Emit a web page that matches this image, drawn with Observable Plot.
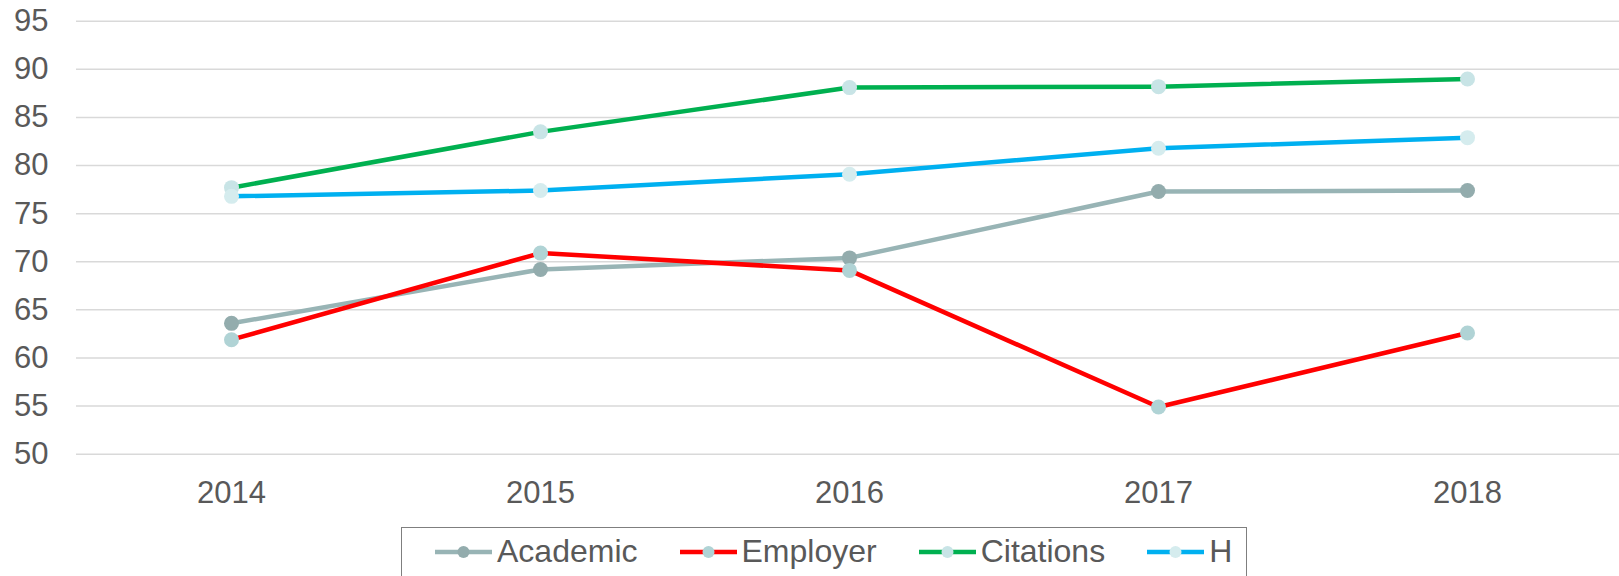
<!DOCTYPE html>
<html>
<head>
<meta charset="utf-8">
<script src="https://cdn.jsdelivr.net/npm/d3@7"></script>
<script src="https://cdn.jsdelivr.net/npm/@observablehq/plot@0.6"></script>
<style>
  html, body { margin: 0; padding: 0; background: #fff; }
  body { width: 1619px; height: 576px; overflow: hidden; font-family: "Liberation Sans", Arial, sans-serif; }
  #chart svg { display: block; }
  #legend {
    position: relative;
    margin-left: 401px;
    margin-top: 7px;
    width: 846px;
    height: 50px;
    box-sizing: border-box;
    border: 1.3px solid #7f7f7f;
    display: flex;
    align-items: center;
    padding-left: 33px;
    color: #595959;
    font-size: 32px;
    font-family: "Liberation Sans", Arial, sans-serif;
  }
  .item { display: flex; align-items: center; margin-right: 42px; }
  .item svg { margin-right: 5px; display: block; }
  .item span { line-height: 1; position: relative; top: -1px; }
</style>
</head>
<body>
<div id="chart"></div>
<div id="legend"></div>
<script>
const years = [2014, 2015, 2016, 2017, 2018];
const seriesNames = ["Academic", "Employer", "Citations", "H"];
const academic = [63.6, 69.2, 70.4, 77.3, 77.4];
const employer = [61.9, 70.9, 69.1, 54.9, 62.6];
const citations = [77.7, 83.5, 88.1, 88.2, 89.0];
const hIndex = [76.8, 77.4, 79.1, 81.8, 82.9];
const yTicks = [50, 55, 60, 65, 70, 75, 80, 85, 90, 95];

const lineColors = ["#98b4b5", "#ff0000", "#00b050", "#00b0f0"];
const markerColors = ["#93acad", "#b0d3d5", "#c8e4e6", "#d5ecee"];

const valuesBySeries = [academic, employer, citations, hIndex];
const rows = [];
seriesNames.forEach((s, i) => {
  years.forEach((y, j) => rows.push({series: s, year: y, value: valuesBySeries[i][j], idx: i}));
});

const marks = [
  Plot.gridY(yTicks, {stroke: "#d9d9d9", strokeOpacity: 1, strokeWidth: 1.5}),
  Plot.axisY(yTicks, {tickSize: 0, tickPadding: 28, fontSize: 31, fill: "#595959", label: null}),
  Plot.axisX({tickSize: 0, tickPadding: 27, fontSize: 31, fill: "#595959", label: null, tickFormat: d => String(d)})
];
seriesNames.forEach((s, i) => {
  const data = rows.filter(r => r.series === s);
  marks.push(Plot.line(data, {x: "year", y: "value", stroke: lineColors[i], strokeWidth: 4.5, curve: "linear"}));
  marks.push(Plot.dot(data, {x: "year", y: "value", r: 7.5, fill: markerColors[i], stroke: "none"}));
});

const chart = Plot.plot({
  width: 1619,
  height: 520,
  marginLeft: 76,
  marginRight: -3.5,
  marginTop: 20.7,
  marginBottom: 66.3,
  style: {fontFamily: "'Liberation Sans', Arial, sans-serif", fontSize: "31px", color: "#595959", background: "#fff"},
  x: {type: "point", domain: years, padding: 0.5, label: null},
  y: {domain: [50, 95], label: null},
  marks
});
document.getElementById("chart").appendChild(chart);

const legend = document.getElementById("legend");
seriesNames.forEach((s, i) => {
  const item = document.createElement("div");
  item.className = "item";
  item.innerHTML = `<svg width="57" height="14" viewBox="0 0 57 14"><line x1="0" y1="7" x2="57" y2="7" stroke="${lineColors[i]}" stroke-width="4.5"/><circle cx="28.5" cy="7" r="6" fill="${markerColors[i]}"/></svg><span>${s}</span>`;
  legend.appendChild(item);
});
</script>
</body>
</html>
